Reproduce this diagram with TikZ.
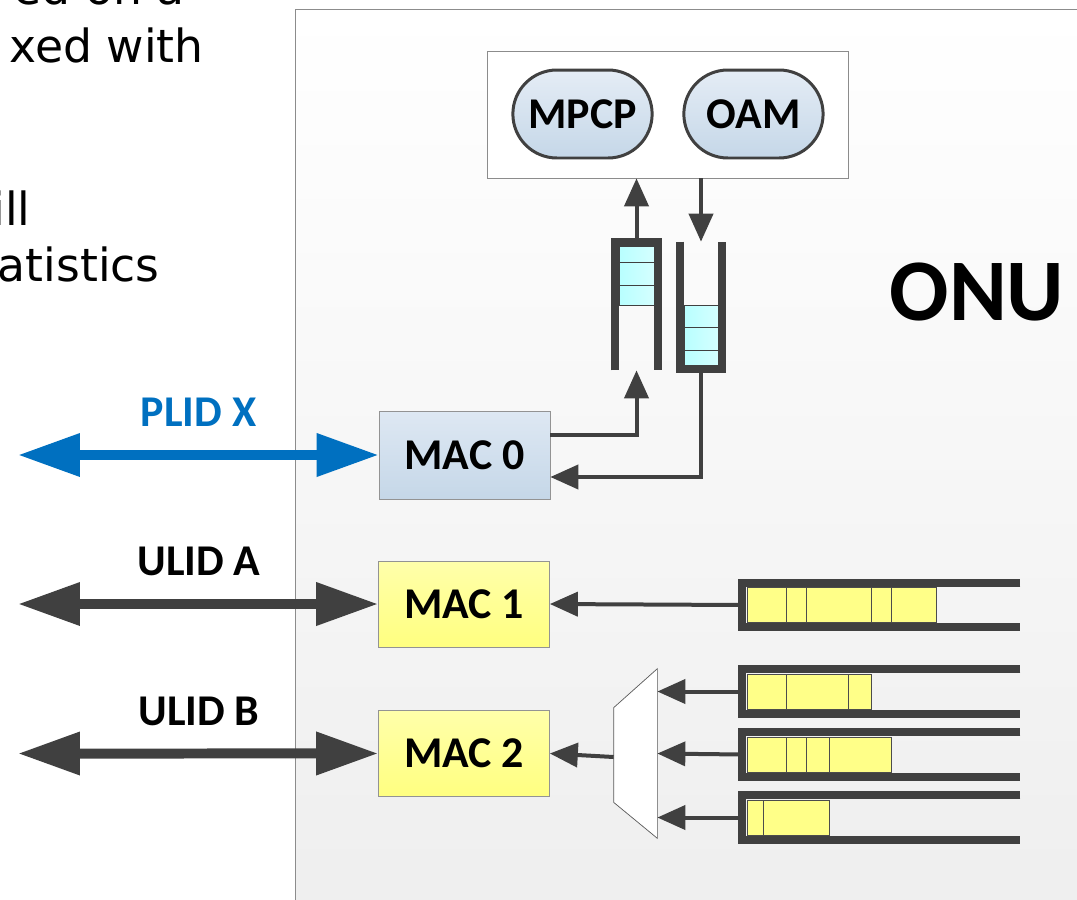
\documentclass[tikz,border=0pt]{standalone}
\usepackage{fontspec}
\newfontfamily\carlito{Carlito}
\newfontfamily\slidefont{DejaVu Sans}
\usepackage{tikz}
\usetikzlibrary{%
   arrows.meta,%
   positioning,%
   shapes.misc}

\definecolor{darkline}{RGB}{64,64,64}
\definecolor{plidblue}{RGB}{0,112,192}
\definecolor{macblue top}{RGB}{222,232,243}
\definecolor{macblue bot}{RGB}{197,215,232}
\definecolor{macyellow top}{RGB}{255,255,170}
\definecolor{macyellow bot}{RGB}{255,255,128}
\definecolor{qcyan}{RGB}{184,255,255}
\definecolor{qyellow}{RGB}{255,255,136}
\definecolor{onugray}{RGB}{238,238,238}

\begin{document}
\begin{tikzpicture}
  [x=0.02cm,y=-0.02cm,>=Triangle,
  label font/.style={font=\carlito\bfseries\fontsize{25}{30}\selectfont},
  mac box/.style={draw=gray!85,thin,minimum width=3.42cm,minimum height=1.72cm,label font},
  blue mac/.style={mac box,top color=macblue top,bottom color=macblue bot},
  yellow mac/.style={mac box,top color=macyellow top,bottom color=macyellow bot},
  proto/.style={rounded rectangle,draw=darkline,line width=1.7pt,minimum width=3.02cm,
    minimum height=1.76cm,top color=macblue top!80!white,bottom color=macblue bot,label font},
  conn/.style={draw=darkline,line width=0.08cm,-{Triangle[length=0.56cm,width=0.48cm]}},
  link/.style={line width=0.2cm,{Triangle[length=1.24cm,width=0.82cm]}-{Triangle[length=1.24cm,width=0.82cm]}},
  link label/.style={label font,anchor=base},
  wall/.style={draw=darkline,line width=0.16cm,line join=miter},
  cyan cell/.style={draw=darkline,thin,left color=qcyan,right color=qcyan!60!white},
  yellow cell/.style={draw=gray!60!black,thin,fill=qyellow},
  slide text/.style={font=\slidefont\fontsize{26}{31}\selectfont,anchor=base east,inner sep=0pt}]
  \useasboundingbox (0,0) rectangle (1077,899);
  \clip (0,0) rectangle (1077,899);

  % slide text behind the picture
  \node [slide text] (txt1) at (185,5) {ed on a};
  \node [slide text] (txt2) at (204,62) {xed with};
  \node [slide text] (txt3) at (31,225) {ill};
  \node [slide text] (txt4) at (160,281) {atistics};

  % ONU
  \draw [draw=gray!90,thin,top color=white,bottom color=onugray] (295,9) rectangle (1110,930);
  \node [font=\carlito\bfseries\fontsize{50}{60}\selectfont] (onu) at (977,292) {ONU};

  % control plane
  \node [draw=gray!90,thin,fill=white,minimum width=7.22cm,minimum height=2.54cm] (ctrl) at (667.5,114.5) {};
  \node [proto] (mpcp) at (582.5,114) {MPCP};
  \node [proto,right=3.42cm of mpcp.center,anchor=center] (oam) {OAM};

  % MACs
  \node [blue mac,minimum height=1.76cm] (mac0) at (464.5,455) {MAC 0};
  \node [yellow mac] (mac1) at (464,604) {MAC 1};
  \node [yellow mac] (mac2) [below=2.99cm of mac1.center,anchor=center] {MAC 2};

  % vertical queues
  \node [minimum width=0.86cm,minimum height=2.56cm,inner sep=0pt] (qup) at (636.5,306) {};
  \node [minimum width=0.84cm,minimum height=2.54cm,inner sep=0pt] (qdown) at (701,305.5) {};
  \foreach \a/\b in {246/262,262/285,285/305}
    \draw [cyan cell] (619,\a) rectangle (654,\b);
  \foreach \a/\b in {305/327,327/350,350/365}
    \draw [cyan cell] (684,\a) rectangle (718,\b);
  \draw [wall] (qup.south west) -- (qup.north west) -- (qup.north east) -- (qup.south east);
  \draw [wall] (qdown.north west) -- (qdown.south west) -- (qdown.south east) -- (qdown.north east);

  \draw [conn] (qup.north) -- (qup.north |- ctrl.south);
  \draw [conn] (ctrl.south -| qdown.north) -- (qdown.north);
  \draw [conn] ([yshift=0.4cm]mac0.east) -| (qup.south);
  \draw [conn] (qdown.south) |- ([yshift=-0.44cm]mac0.east);

  % data queues
  \foreach \n/\y in {q1/605,q2/691.5,q3/754.5,q4/817.5}
    \node [minimum width=5.56cm,minimum height=0.88cm,inner sep=0pt] (\n) at (881,\y) {};
  \foreach \a/\b in {747/786,786/806,806/871,871/891,891/936}
    \draw [yellow cell] (\a,587) rectangle (\b,622);
  \foreach \a/\b in {747/786,786/848,848/871}
    \draw [yellow cell] (\a,674) rectangle (\b,709);
  \foreach \a/\b in {747/786,786/806,806/829,829/891}
    \draw [yellow cell] (\a,737) rectangle (\b,772);
  \foreach \a/\b in {747/763,763/829}
    \draw [yellow cell] (\a,800) rectangle (\b,835);
  \foreach \n in {q1,q2,q3,q4}
    \draw [wall] (\n.north east) -- (\n.north west) -- (\n.south west) -- (\n.south east);

  % multiplexer
  \node [minimum width=0.86cm,minimum height=3.38cm,inner sep=0pt] (mux) at (635.5,753.5) {};
  \draw [draw=gray!70!black,thin,fill=white] (mux.north east) -- (mux.south east)
    -- ([yshift=0.72cm]mux.south west) -- ([yshift=-0.78cm]mux.north west) -- cycle;

  \draw [conn] (q1.west) -- (mac1.east);
  \draw [conn] (q2.west) -- (q2.west -| mux.east);
  \draw [conn] (q3.west) -- (mux.east);
  \draw [conn] (q4.west) -- (q4.west -| mux.east);
  \draw [conn] ([yshift=-0.07cm]mux.west) -- (mac2.east);

  % links
  \coordinate (plid end) at (18,455);
  \coordinate (ulida end) at (18,604);
  \coordinate (ulidb end) at (18,753.5);
  \draw [link,plidblue] (plid end) -- (mac0.west);
  \draw [link,darkline] (ulida end) -- (mac1.west);
  \draw [link,darkline] (ulidb end) -- (mac2.west);
  \node [link label,text=plidblue] (plid) at (198.5,426) {PLID X};
  \node [link label] (ulida) at (199,575) {ULID A};
  \node [link label] (ulidb) at (199,725) {ULID B};
\end{tikzpicture}
\end{document}
